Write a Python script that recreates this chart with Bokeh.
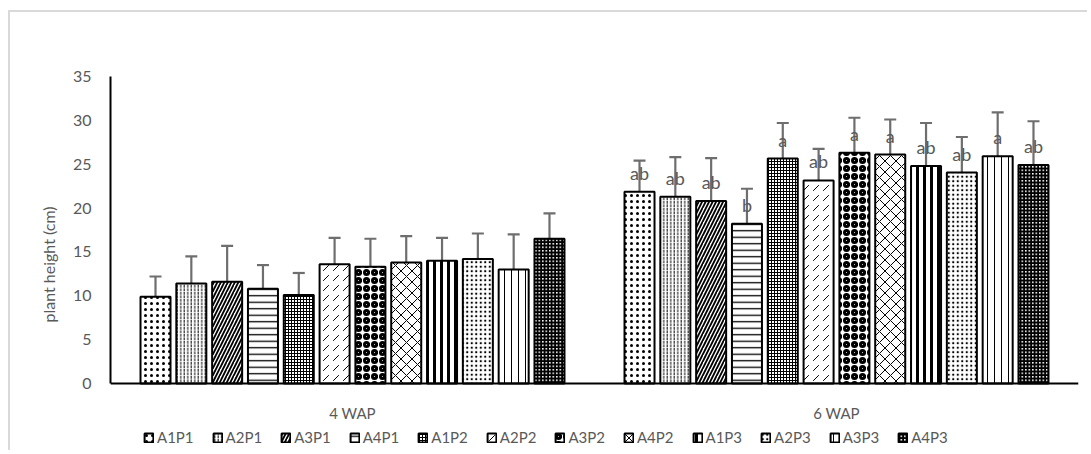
from bokeh.plotting import figure
from bokeh.models import (ColumnDataSource, Whisker, TeeHead, Legend, LegendItem,
                          FixedTicker, Range1d)
from bokeh.embed import file_html
from bokeh.resources import INLINE
from bokeh.core.properties import value

# ---------------- data ----------------
groups = ["4 WAP", "6 WAP"]
treatments = ["A1P1", "A2P1", "A3P1", "A4P1", "A1P2", "A2P2",
              "A3P2", "A4P2", "A1P3", "A2P3", "A3P3", "A4P3"]

wap4_mean = [9.9, 11.4, 11.6, 10.8, 10.1, 13.6, 13.3, 13.8, 14.0, 14.2, 13.0, 16.5]
wap4_upper = [12.2, 14.5, 15.7, 13.5, 12.6, 16.6, 16.5, 16.8, 16.6, 17.1, 17.0, 19.4]
wap4_lower = [9.0, 10.5, 10.6, 10.0, 9.2, 12.6, 12.5, 12.8, 13.0, 13.0, 12.1, 15.4]

wap6_mean = [21.85, 21.3, 20.8, 18.2, 25.65, 23.15, 26.3, 26.1, 24.8, 24.05, 25.9, 24.9]
wap6_upper = [25.4, 25.8, 25.7, 22.2, 29.7, 26.75, 30.3, 30.1, 29.7, 28.1, 30.9, 29.9]
wap6_lower = [20.9, 20.3, 19.8, 17.1, 24.7, 22.2, 25.4, 25.1, 23.7, 23.2, 24.9, 24.1]

wap6_letters = ["ab", "ab", "ab", "b", "a", "ab", "a", "a", "ab", "ab", "a", "ab"]

y_ticks = [0, 5, 10, 15, 20, 25, 30, 35]

# hatch styles per treatment (pattern, scale, weight)
hatches = [
    (".", 6, 0.5),
    (":", 3.5, 1.0),
    ("/", 7, 1.8),
    ("-", 6.5, 1.3),
    ("+", 3, 1.0),
    (",", 10, 1.0),
    ("o", 8, 3.0),
    ("x", 11, 1.0),
    ("|", 7, 3.0),
    (".", 4.5, 0.9),
    ("|", 7, 1.0),
    ("+", 3.5, 2.3),
]

FONT = "Lato"
GRAY = "#595959"

pitch = 0.074
bar_w = 0.062

W, H = 1079, 440
LEFT, TOP, RIGHT = 100, 64, 11
px_per_unit = 307 / 35.0
zero_from_bottom = H - (TOP + 307)
y_min = -zero_from_bottom / px_per_unit

p = figure(width=W, height=H, output_backend="svg", toolbar_location=None,
           x_range=Range1d(0, 2), y_range=Range1d(y_min, 35),
           min_border_left=LEFT, min_border_right=RIGHT, min_border_top=TOP,
           min_border_bottom=0)
p.styles = {"margin-left": "8px", "margin-top": "10px",
            "border-left": "2px solid #d9d9d9", "border-top": "2px solid #d9d9d9",
            "border-right": "none", "border-bottom": "none", "outline": "none"}
p.outline_line_color = None
p.xgrid.grid_line_color = None
p.ygrid.grid_line_color = None

items = []
all_x, all_up, all_lo = [], [], []
for j, t in enumerate(treatments):
    off = (j - 5.5) * pitch
    xs = [0.5 + off, 1.5 + off]
    tops = [wap4_mean[j], wap6_mean[j]]
    src = ColumnDataSource(dict(x=xs, top=tops))
    pat, sc, wt = hatches[j]
    r = p.vbar(x="x", top="top", width=bar_w, bottom=0, source=src,
               fill_color="white", line_color="black", line_width=2,
               hatch_pattern=pat, hatch_scale=sc, hatch_weight=wt,
               hatch_color="black")
    items.append(LegendItem(label=t, renderers=[r]))
    all_x += xs
    all_up += [wap4_upper[j], wap6_upper[j]]
    all_lo += [wap4_lower[j], wap6_lower[j]]

err_src = ColumnDataSource(dict(x=all_x, upper=all_up, lower=all_lo))
ecol = "#6e6e6e"
w = Whisker(source=err_src, base="x", upper="upper", lower="lower",
            line_color=ecol, line_width=2.2,
            upper_head=TeeHead(size=12, line_color=ecol, line_width=2.2),
            lower_head=TeeHead(size=12, line_color=ecol, line_width=2.2))
p.add_layout(w)

lab_src = ColumnDataSource(dict(
    x=[1.5 + (j - 5.5) * pitch for j in range(12)],
    y=wap6_mean, text=wap6_letters))
p.text(x="x", y="y", text="text", source=lab_src, y_offset=-19,
       text_align="center", text_baseline="middle",
       text_font=value(FONT), text_font_size="18px", text_color=GRAY)

# axes
p.yaxis.ticker = FixedTicker(ticks=y_ticks)
p.yaxis.bounds = (0, 35)
p.yaxis.axis_label = "plant height (cm)"
p.yaxis.axis_label_text_font = FONT
p.yaxis.axis_label_text_font_style = "normal"
p.yaxis.axis_label_text_font_size = "16px"
p.yaxis.axis_label_text_color = GRAY
p.yaxis.axis_label_standoff = 12
p.yaxis.major_label_text_font = FONT
p.yaxis.major_label_text_font_size = "16px"
p.yaxis.major_label_text_color = GRAY
p.yaxis.major_label_standoff = 13
p.yaxis.major_tick_line_color = None
p.yaxis.minor_tick_line_color = None
p.yaxis.axis_line_color = "black"
p.yaxis.axis_line_width = 2

p.xaxis.fixed_location = 0
p.xaxis.ticker = FixedTicker(ticks=[0.5, 1.5])
p.xaxis.major_label_overrides = {0.5: groups[0], 1.5: groups[1]}
p.xaxis.major_label_text_font = FONT
p.xaxis.major_label_text_font_size = "15px"
p.xaxis.major_label_text_color = GRAY
p.xaxis.major_label_standoff = 14
p.xaxis.major_tick_line_color = None
p.xaxis.minor_tick_line_color = None
p.xaxis.axis_line_color = "black"
p.xaxis.axis_line_width = 2

legend = Legend(items=items, orientation="horizontal", location=(33, 6),
                border_line_color=None, background_fill_alpha=0,
                glyph_width=11, glyph_height=11, label_standoff=3,
                spacing=18, padding=0, margin=0,
                label_text_font=FONT, label_text_font_size="15px",
                label_text_color=GRAY, label_height=15)
p.add_layout(legend)

open("out.html", "w").write(file_html(p, INLINE))
